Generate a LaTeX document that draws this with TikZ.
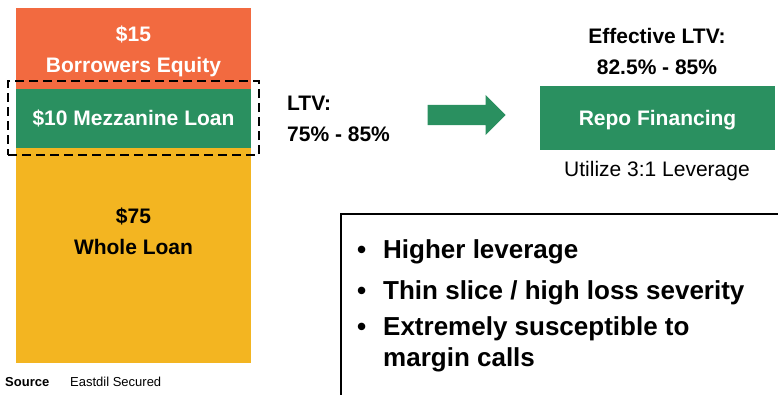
\documentclass[tikz,border=0pt]{standalone}
\usepackage{fontspec}
\setmainfont{Liberation Sans}
\usetikzlibrary{positioning,shapes.arrows}
\definecolor{equityorange}{HTML}{F26A40}
\definecolor{mezzgreen}{HTML}{2A9060}
\definecolor{loanyellow}{HTML}{F3B521}

\begin{document}
\begin{tikzpicture}[x=1pt,y=-1pt,
  tranche/.style={rectangle,minimum width=235pt,inner sep=0pt,text=white,
    font=\bfseries\fontsize{21}{31}\selectfont,align=center},
  label text/.style={inner sep=0pt,font=\bfseries\fontsize{21}{31}\selectfont,align=center},
  bullet text/.style={inner sep=0pt,anchor=base west,font=\bfseries\fontsize{26}{30}\selectfont},
  source text/.style={inner sep=0pt,anchor=base west,font=\fontsize{13}{15}\selectfont}]
  \useasboundingbox (0,0) rectangle (778,394);
  \clip (0,0) rectangle (778,394);

  % capital stack
  \node[tranche,fill=equityorange,minimum height=81pt] (equity) at (133.5,48.5) {};
  \node[label text,text=white] (equitytext) at (133.5,51.5) {\$15\\Borrowers Equity};
  \node[tranche,fill=mezzgreen,minimum height=59pt] (mezz) at (133.5,118.5) {\$10 Mezzanine Loan};
  \node[tranche,fill=loanyellow,minimum height=215pt] (whole) at (133.5,255.5) {};
  \node[label text] (wholetext) at (133.5,231) {\$75\\Whole Loan};
  \node[draw,line width=2.5pt,dash pattern=on 9pt off 5pt,minimum width=251pt,minimum height=74pt] (mezzframe) at (133.5,118) {};

  % ltv and arrow
  \node[label text,align=left,anchor=west] (ltv) at (287,118.5) {LTV:\\75\% - 85\%};
  \node[single arrow,fill=mezzgreen,inner xsep=0pt,inner ysep=10pt,minimum height=78pt,
    single arrow head extend=10pt,anchor=tip] (arrow) at (506,115) {};

  % repo side
  \node[tranche,fill=mezzgreen,minimum height=64pt] (repo) at (657.5,118) {};
  \node[label text,text=white] (repotext) at (657.5,120) {Repo Financing};
  \node[label text] (effltv) at (657,51.5) {Effective LTV:\\82.5\% - 85\%};
  \node[inner sep=0pt,font=\fontsize{21}{25}\selectfont] (utilize) at (657,171) {Utilize 3:1 Leverage};

  % risks box
  \node[draw,line width=2pt,anchor=north west,minimum width=500pt,minimum height=250pt] (risks) at (340,213) {};
  \node[bullet text] (risk1) at (357,258) {\makebox[26pt][l]{\textbullet}Higher leverage};
  \node[bullet text] (risk2) at (357,299) {\makebox[26pt][l]{\textbullet}Thin slice / high loss severity};
  \node[bullet text] (risk3) at (357,335) {\makebox[26pt][l]{\textbullet}Extremely susceptible to};
  \node[bullet text] (risk3b) at (383,366) {margin calls};

  % source line
  \node[source text,font=\bfseries\fontsize{13}{15}\selectfont] (src) at (5,386) {Source};
  \node[source text] (srcname) at (70,386) {Eastdil Secured};
\end{tikzpicture}
\end{document}
